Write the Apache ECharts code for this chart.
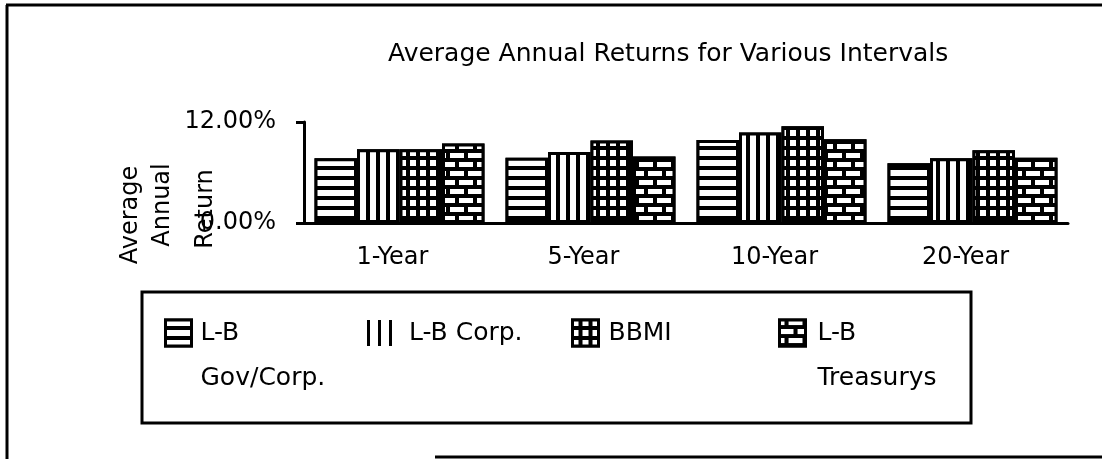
<!DOCTYPE html>
<html>
<head>
	<meta charset="utf-8">
	<title>Average Annual Returns for Various Intervals</title>
	<script src="https://cdn.jsdelivr.net/npm/echarts@6/dist/echarts.min.js"></script>
	<style>
		html, body { margin: 0; padding: 0; background: #fff; }
		#main { width: 1102px; height: 459px; }
	</style>
</head>
<body>
	<div id="main"></div>
	<script type="text/javascript">
		// data (percent)
		var categories = ['1-Year', '5-Year', '10-Year', '20-Year'];
		var seriesNames = ['L-B Gov/Corp.', 'L-B Corp.', 'BBMI', 'L-B Treasurys'];
		var legendLabels = ['L-B\nGov/Corp.', 'L-B Corp.', 'BBMI', 'L-B\nTreasurys'];
		var govCorp = [7.7, 7.75, 9.85, 7.1];
		var corp = [8.75, 8.45, 10.75, 7.7];
		var bbmi = [8.75, 9.8, 11.5, 8.65];
		var treasurys = [9.45, 7.9, 9.95, 7.75];
		var yTicks = [0, 12];

		var font = 'DejaVu Sans';

		// white fill patterns on black bars
		function pattern(dx, dy, color) {
			return {
				color: color || '#fff',
				symbol: 'rect',
				symbolSize: 1,
				symbolKeepAspect: false,
				dashArrayX: dx,
				dashArrayY: dy
			};
		}
		var decals = [
			pattern([40, 0], [6, 4]),                 // horizontal stripes
			pattern([6, 4], [40, 0]),                 // vertical stripes
			pattern([6, 4], [6, 4]),                  // grid
			pattern([[14, 4], [5, 4, 9, 0]], [5, 4])  // bricks
		];
		var seriesData = [govCorp, corp, bbmi, treasurys];

		var legendLeft = [164, 367, 571, 778];
		var legendPad = [4, 11, 5, 7];
		var lineH = 45;

		var myChart = echarts.init(document.getElementById('main'));

		var option = {
			animation: false,
			textStyle: { fontFamily: font, color: '#000' },
			title: {
				text: 'Average Annual Returns for Various Intervals',
				left: 388,
				top: 42,
				padding: 0,
				textStyle: { fontFamily: font, fontSize: 25, fontWeight: 'normal', color: '#000' }
			},
			legend: seriesNames.map(function (n, i) {
				var two = legendLabels[i].indexOf('\n') >= 0;
				var lg = {
					data: [n],
					left: legendLeft[i],
					// icon centred on the first text line
					top: two ? 333 - lineH * 1.5 : 333 - lineH / 2,
					padding: 0,
					itemWidth: 26,
					itemHeight: 26,
					icon: 'rect',
					selectedMode: false,
					itemStyle: { borderColor: '#000', borderWidth: 3 },
					formatter: function () { return two ? ' \n' + legendLabels[i] : legendLabels[i]; },
					textStyle: {
						fontFamily: font, fontSize: 25, color: '#000', lineHeight: lineH,
						padding: [0, 0, 0, legendPad[i]]
					}
				};
				if (i === 1) {
					lg.itemStyle = { color: '#fff', borderWidth: 0, decal: pattern([3, 8], [40, 0], '#000') };
				}
				return lg;
			}),
			grid: { left: 304, right: 34, top: 122, bottom: 236, containLabel: false, outerBoundsMode: 'none' },
			xAxis: {
				type: 'category',
				data: categories,
				axisLine: { lineStyle: { color: '#000', width: 3 } },
				axisTick: { inside: true, length: 8, lineStyle: { color: '#000', width: 3 } },
				axisLabel: { margin: 23, padding: [0, 14, 0, 0], fontFamily: font, fontSize: 24, color: '#000' }
			},
			yAxis: {
				type: 'value',
				min: yTicks[0],
				max: yTicks[yTicks.length - 1],
				interval: yTicks[1] - yTicks[0],
				axisLine: { show: true, lineStyle: { color: '#000', width: 3 } },
				axisTick: { show: true, length: 8, lineStyle: { color: '#000', width: 3 } },
				splitLine: { show: false },
				axisLabel: {
					margin: 28, fontFamily: font, fontSize: 24, color: '#000',
					formatter: function (v) { return v.toFixed(2) + '%'; }
				}
			},
			series: seriesData.map(function (d, i) {
				return {
					name: seriesNames[i],
					type: 'bar',
					data: d,
					barGap: '0%',
					barCategoryGap: '11%',
					itemStyle: { color: '#000', borderColor: '#000', borderWidth: 3, decal: decals[i] },
					emphasis: { disabled: true }
				};
			}),
			graphic: [
				{ type: 'line', shape: { x1: 6, y1: 5, x2: 1102, y2: 5 }, style: { stroke: '#000', lineWidth: 3 } },
				{ type: 'line', shape: { x1: 7, y1: 5, x2: 7, y2: 459 }, style: { stroke: '#000', lineWidth: 3 } },
				{ type: 'line', shape: { x1: 435, y1: 457, x2: 1102, y2: 457 }, style: { stroke: '#000', lineWidth: 3 } },
				{ type: 'rect', shape: { x: 142, y: 292, width: 829, height: 131 }, style: { fill: 'none', stroke: '#000', lineWidth: 3 } },
				{ type: 'text', x: 131, y: 215, rotation: Math.PI / 2, style: { text: 'Average', font: '24px "DejaVu Sans"', fill: '#000', align: 'center', verticalAlign: 'middle' } },
				{ type: 'text', x: 163, y: 205, rotation: Math.PI / 2, style: { text: 'Annual', font: '24px "DejaVu Sans"', fill: '#000', align: 'center', verticalAlign: 'middle' } },
				{ type: 'text', x: 206, y: 209, rotation: Math.PI / 2, style: { text: 'Return', font: '24px "DejaVu Sans"', fill: '#000', align: 'center', verticalAlign: 'middle' } }
			]
		};

		myChart.setOption(option);
	</script>
</body>
</html>
